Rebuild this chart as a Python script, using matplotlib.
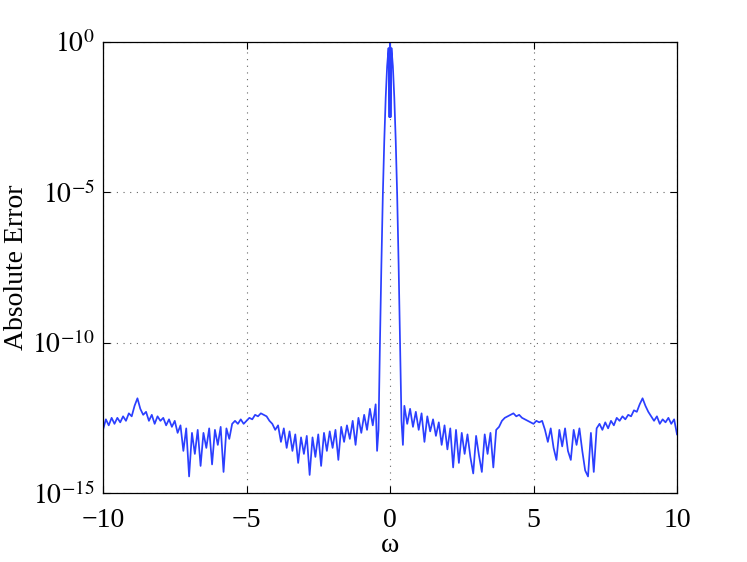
import numpy as np
import matplotlib
matplotlib.use('Agg')
import matplotlib.pyplot as plt
from matplotlib.ticker import FixedLocator, FixedFormatter

# log10 of the absolute error
# left noise floor, omega = -10.0 ... -0.5 (step 0.1)
log_err_left = [
    -12.9, -12.55, -12.75, -12.5, -12.7, -12.5, -12.65, -12.45, -12.6, -12.35,
    -12.45, -12.1, -11.85, -12.2, -12.4, -12.3, -12.6, -12.4, -12.7, -12.45,
    -12.6, -12.5, -12.75, -12.55, -12.8, -12.6, -13.0, -12.75, -13.6, -12.85,
    -14.45, -13.0, -13.7, -12.9, -14.1, -13.0, -13.5, -12.85, -14.05, -12.9,
    -13.4, -12.8, -14.3, -12.85, -13.2, -12.7, -12.6, -12.7, -12.55, -12.7,
    -12.6, -12.5, -12.55, -12.4, -12.45, -12.35, -12.4, -12.45, -12.6, -12.7,
    -12.9, -12.75, -13.3, -12.85, -13.5, -12.95, -13.6, -13.05, -14.0, -13.15,
    -13.7, -13.1, -14.4, -13.15, -13.8, -13.05, -14.1, -13.0, -13.6, -12.95,
    -13.5, -12.9, -13.9, -12.8, -13.3, -12.75, -13.2, -12.6, -13.4, -12.5,
    -13.0, -12.4, -12.9, -12.2, -12.75, -12.05,
]

# central peak
omega_peak = [-0.45, -0.40, -0.35, -0.30, -0.25, -0.20, -0.15, -0.10, -0.05, -0.02,
              0.0, 0.02, 0.05, 0.10, 0.15, 0.20, 0.25, 0.30, 0.35, 0.40, 0.45]
log_err_peak = [-13.6, -12.9, -10.0, -7.4, -5.1, -3.3, -1.85, -0.8, -0.2, -2.5,
                0.0, -2.5, -0.2, -0.8, -1.85, -3.3, -5.1, -7.4, -10.0, -12.6, -13.4]

# right noise floor, omega = 0.5 ... 10.0 (step 0.1)
log_err_right = [
    -12.1, -12.7, -12.2, -12.8, -12.3, -12.9, -12.35, -13.3, -12.45, -12.95,
    -12.55, -13.1, -12.65, -13.4, -12.75, -13.55, -12.85, -14.15, -12.9, -14.0,
    -13.0, -13.7, -13.05, -13.8, -14.35, -13.1, -13.75, -14.3, -13.05, -13.7,
    -13.0, -14.15, -12.9, -12.8, -12.6, -12.5, -12.45, -12.4, -12.35, -12.45,
    -12.4, -12.5, -12.55, -12.6, -12.65, -12.7, -12.6, -12.65, -12.6, -12.9,
    -13.3, -12.85, -13.5, -13.9, -12.9, -13.45, -12.85, -13.6, -13.9, -12.9,
    -13.4, -12.85, -13.6, -14.25, -14.45, -13.0, -14.3, -12.85, -12.7, -12.9,
    -12.65, -12.85, -12.6, -12.75, -12.5, -12.6, -12.45, -12.55, -12.4, -12.45,
    -12.25, -12.3, -12.05, -11.85, -12.1, -12.3, -12.45, -12.6, -12.45, -12.7,
    -12.55, -12.65, -12.5, -12.7, -12.55, -13.05,
]

x_ticks = [-10, -5, 0, 5, 10]
x_labels = ['\u221210', '\u22125', '0', '5', '10']
y_ticks = [1e-15, 1e-10, 1e-5, 1e0]
y_labels = [r'$10^{-15}$', r'$10^{-10}$', r'$10^{-5}$', r'$10^{0}$']

plt.rcParams['font.family'] = ['Liberation Serif', 'DejaVu Serif']
plt.rcParams['mathtext.fontset'] = 'stix'

omega = np.concatenate([
    np.linspace(-10.0, -0.5, len(log_err_left)),
    omega_peak,
    np.linspace(0.5, 10.0, len(log_err_right)),
])
err = 10.0 ** np.concatenate([log_err_left, log_err_peak, log_err_right])

fig = plt.figure(figsize=(7.47, 5.62), dpi=100)
ax = fig.add_axes([103 / 747, 1 - 493 / 562, 574 / 747, 451 / 562])

ax.semilogy(omega, err, color='#2b3fff', lw=1.25)

ax.set_xlim(-10, 10)
ax.set_ylim(1e-15, 1e0)
ax.xaxis.set_major_locator(FixedLocator(x_ticks))
ax.xaxis.set_major_formatter(FixedFormatter(x_labels))
ax.yaxis.set_major_locator(FixedLocator(y_ticks))
ax.yaxis.set_major_formatter(FixedFormatter(y_labels))
ax.yaxis.set_minor_locator(FixedLocator([]))

ax.tick_params(direction='in', length=5, width=0.8, top=True, right=True,
               labelsize=20, pad=6)
ax.tick_params(axis='x', pad=11)
ax.grid(True, linestyle=(0, (1, 5)), color='#666666', lw=0.8)
for s in ax.spines.values():
    s.set_linewidth(0.9)

ax.set_xlabel('\u03c9', fontsize=20, labelpad=0)
ax.set_ylabel('Absolute Error', fontsize=20, labelpad=2)

fig.savefig('out.png', dpi=100)
